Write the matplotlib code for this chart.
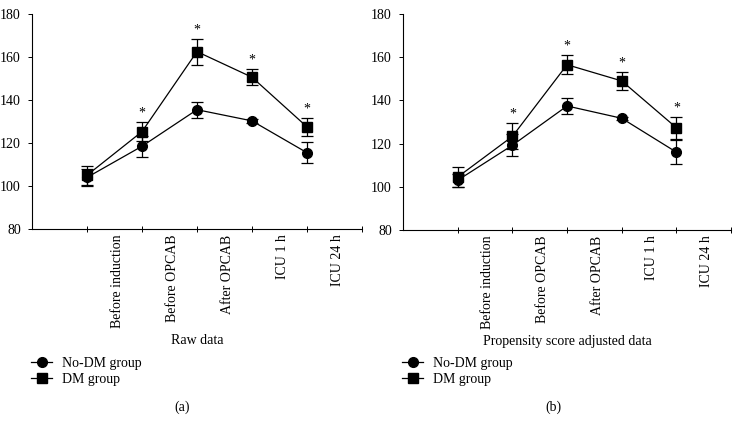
import numpy as np
import matplotlib.pyplot as plt
from matplotlib.lines import Line2D

plt.rcParams['font.family'] = ['Liberation Serif', 'DejaVu Serif']
plt.rcParams['font.size'] = 10

# time points (labels sit between the ticks, as in the original)
timepoints = ['Before induction', 'Before OPCAB', 'After OPCAB', 'ICU 1 h', 'ICU 24 h']

# panel (a): raw data
raw_nodm = [104, 118.5, 135.5, 130.3, 115.5]
raw_nodm_err = [4, 4.8, 3.7, 0.8, 5]
raw_dm = [105, 125.3, 162.5, 150.6, 127.5]
raw_dm_err = [4.5, 4.5, 6, 3.8, 4.3]
raw_star = [False, True, True, True, True]

# panel (b): propensity score adjusted data
adj_nodm = [103, 119.2, 137.4, 131.7, 116]
adj_nodm_err = [3, 5, 3.8, 0.8, 5.5]
adj_dm = [104.5, 123.3, 156.5, 149, 127.3]
adj_dm_err = [4.5, 6, 4.5, 4.1, 5]
adj_star = [False, True, True, True, True]

fig = plt.figure(figsize=(7.4, 4.33), dpi=100)


def panel(rect, nodm, nodm_err, dm, dm_err, star, title, tag, title_x, tag_x):
    ax = fig.add_axes(rect)
    x = np.arange(len(timepoints))
    kw = dict(color='black', lw=0.9, capsize=4.5, elinewidth=0.9, capthick=0.9)
    ax.errorbar(x, nodm, yerr=nodm_err, marker='o', ms=7, **kw)
    ax.errorbar(x, dm, yerr=dm_err, marker='s', ms=7, **kw)
    for xi, v, e, s in zip(x, dm, dm_err, star):
        if s:
            ax.text(xi, v + e + 1.2, '*', ha='center', va='bottom', fontsize=10)
    ax.set_xlim(-1, 5)
    ax.set_ylim(80, 180)
    ax.set_yticks(np.arange(80, 181, 20))
    ax.set_xticks(np.arange(0, 6))
    ax.set_xticklabels([])
    ax.set_xticks(x + 0.55, minor=True)
    ax.set_xticklabels(timepoints, minor=True, rotation=90, va='top')
    ax.tick_params(axis='x', which='major', direction='inout', length=4, width=0.7)
    ax.tick_params(axis='x', which='minor', length=0, pad=4)
    ax.tick_params(axis='y', direction='out', length=3, width=0.7, pad=5)
    for sp in ['top', 'right']:
        ax.spines[sp].set_visible(False)
    for sp in ['left', 'bottom']:
        ax.spines[sp].set_linewidth(0.8)

    fig.text(title_x, 1 - 341 / 433, title, ha='center', va='center')
    fig.text(tag_x, 1 - 407 / 433, tag, ha='center', va='center')
    handles = [Line2D([], [], color='black', lw=0.9, marker='o', ms=7),
               Line2D([], [], color='black', lw=0.9, marker='s', ms=7)]
    ax.legend(handles, ['No-DM group', 'DM group'], loc='upper left',
              bbox_to_anchor=(rect[0] - 0.001, 1 - 357 / 433),
              bbox_transform=fig.transFigure, frameon=False,
              handlelength=1.5, handletextpad=0.7, labelspacing=0.2,
              borderaxespad=0, borderpad=0)
    return ax


panel([0.0432, 0.471, 0.446, 0.4967], raw_nodm, raw_nodm_err, raw_dm, raw_dm_err,
      raw_star, 'Raw data', '(a)', 197 / 740, 182 / 740)
panel([0.5446, 0.469, 0.4434, 0.4987], adj_nodm, adj_nodm_err, adj_dm, adj_dm_err,
      adj_star, 'Propensity score adjusted data', '(b)', 567 / 740, 553 / 740)

fig.savefig('out.png', dpi=100)
